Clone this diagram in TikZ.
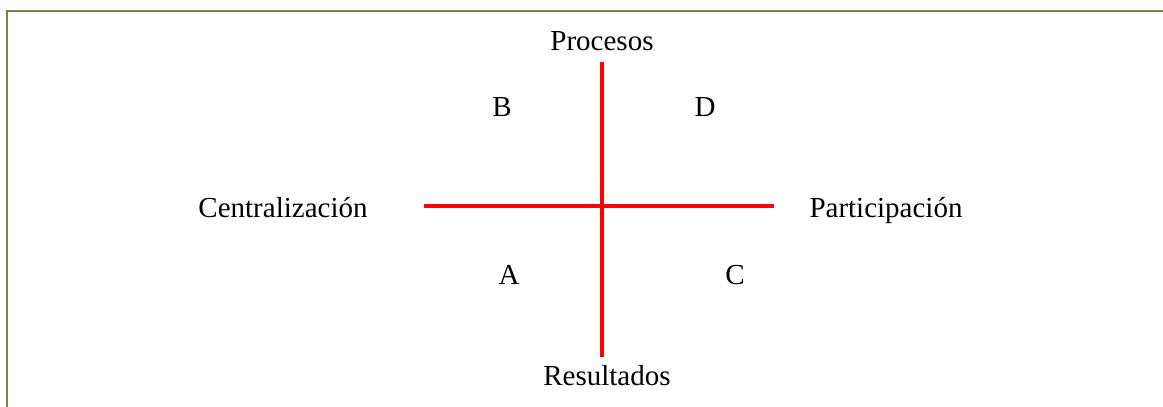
\documentclass[tikz,border=0pt]{standalone}
\usepackage{fontspec}
\setmainfont{Liberation Serif}
\usepackage{tikz}
\usetikzlibrary{positioning, calc}
\definecolor{frameolive}{RGB}{122,128,82}
\tikzset{
    axislabel/.style={font=\fontsize{14.5}{17}\selectfont, anchor=base, inner sep=0pt},
    quadlabel/.style={font=\fontsize{14.5}{17}\selectfont, anchor=base, inner sep=0pt}
}

\begin{document}
\begin{tikzpicture}[
    x=0.5pt, y=-0.5pt,
    axis/.style={red, line width=1.8pt},
    frame/.style={frameolive, line width=1pt}
]
    \useasboundingbox (0,0) rectangle (1163,407);

    % --- Frame (top and left edge only) ---
    \coordinate (fTop) at (1163,11);
    \coordinate (fCorner) at (7,11);
    \coordinate (fBot) at (7,407);
    \draw[frame] (fTop) -- (fCorner) -- (fBot);

    % --- Axes ---
    \coordinate (yTop) at (602,62);
    \coordinate (yBot) at (602,357);
    \coordinate (xLeft) at (424,206);
    \coordinate (xRight) at (774,206);
    \draw[axis] (xLeft) -- (xRight);
    \draw[axis] (yTop) -- (yBot);

    % --- Axis labels ---
    \node[axislabel] (procesos) at (602,50) {Procesos};
    \node[axislabel] (resultados) at (607,385) {Resultados};
    \node[axislabel] (central) at (283,217) {Centralización};
    \node[axislabel] (partic) at (886,217) {Participación};

    % --- Quadrants ---
    \node[quadlabel] (qB) at (502,116) {B};
    \node[quadlabel] (qD) at (705,116) {D};
    \node[quadlabel] (qA) at (509,284) {A};
    \node[quadlabel] (qC) at (735,284) {C};

\end{tikzpicture}
\end{document}
